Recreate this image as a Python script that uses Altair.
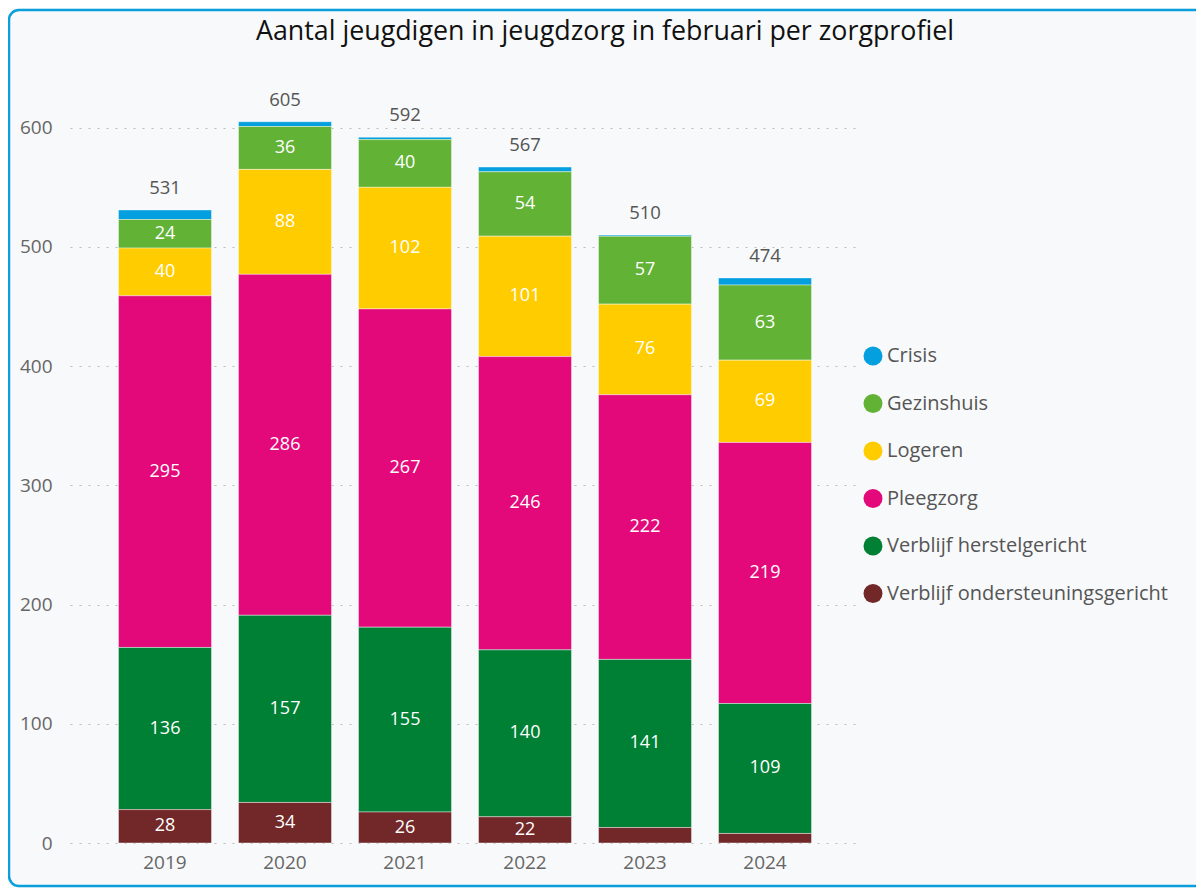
import altair as alt
import pandas as pd

years = ["2019", "2020", "2021", "2022", "2023", "2024"]
profiles = ["Crisis", "Gezinshuis", "Logeren", "Pleegzorg",
            "Verblijf herstelgericht", "Verblijf ondersteuningsgericht"]
colors = ["#039fdf", "#62b236", "#ffcc00", "#e3097a", "#008035", "#722828"]

crisis = [8, 4, 2, 4, 1, 6]
gezinshuis = [24, 36, 40, 54, 57, 63]
logeren = [40, 88, 102, 101, 76, 69]
pleegzorg = [295, 286, 267, 246, 222, 219]
herstel = [136, 157, 155, 140, 141, 109]
ondersteuning = [28, 34, 26, 22, 13, 8]

title_text = "Aantal jeugdigen in jeugdzorg in februari per zorgprofiel"

series = [crisis, gezinshuis, logeren, pleegzorg, herstel, ondersteuning]
rows = []
for p_i, (name, vals) in enumerate(zip(profiles, series)):
    for y, v in zip(years, vals):
        rows.append({"year": y, "profile": name, "value": v,
                     "order": len(profiles) - p_i})
df = pd.DataFrame(rows)

FONT = "Open Sans"
W, H = 790, 763

base = alt.Chart(df)

x_enc = alt.X("year:N", title=None,
              scale=alt.Scale(paddingInner=0.225, paddingOuter=0.404),
              axis=alt.Axis(labelAngle=0, labelFontSize=19, labelColor="#666666",
                            labelFont=FONT, domain=False, ticks=False,
                            labelPadding=10, grid=False))

bars = base.mark_bar(stroke="#ffffff", strokeWidth=0.7, strokeOpacity=0.6).encode(
    x=x_enc,
    y=alt.Y("sum(value):Q", stack="zero", title=None,
            scale=alt.Scale(domain=[0, 640], nice=False),
            axis=alt.Axis(values=[0, 100, 200, 300, 400, 500, 600],
                          labelFontSize=19, labelColor="#666666", labelFont=FONT,
                          domain=False, ticks=False, labelPadding=18,
                          grid=True, gridColor="#bbbbbb", gridDash=[2, 7],
                          gridWidth=1.2)),
    color=alt.Color("profile:N",
                    scale=alt.Scale(domain=profiles, range=colors),
                    legend=alt.Legend(title=None, orient="none",
                                      legendX=793, legendY=266,
                                      symbolType="circle", symbolSize=360,
                                      symbolStrokeWidth=0,
                                      labelFontSize=20, labelFont=FONT,
                                      labelColor="#555555", rowPadding=27.5,
                                      labelOffset=4, labelLimit=500)),
    order=alt.Order("order:Q"),
)

seg_labels = base.transform_stack(
    stack="value", groupby=["year"], sort=[alt.SortField("order")],
    as_=["y0", "y1"]
).transform_calculate(
    mid="(datum.y0 + datum.y1) / 2"
).transform_filter(
    "datum.value >= 20"
).mark_text(color="white", fontSize=18, font=FONT, baseline="middle").encode(
    x="year:N",
    y=alt.Y("mid:Q"),
    text="value:Q",
)

totals = base.transform_aggregate(
    total="sum(value)", groupby=["year"]
).mark_text(color="#555555", fontSize=18.5, font=FONT, baseline="bottom", dy=-12).encode(
    x="year:N",
    y=alt.Y("total:Q"),
    text="total:Q",
)

frame_df = pd.DataFrame({"k": [0]})
frame = alt.Chart(frame_df).mark_rect(
    fill="transparent", stroke="#0aa0dc", strokeWidth=2.5, cornerRadius=10, clip=False
).encode(
    x=alt.value(-61), x2=alt.value(1200),
    y=alt.value(-70), y2=alt.value(806),
)

title_df = pd.DataFrame({"t": [title_text]})
title = alt.Chart(title_df).mark_text(
    fontSize=26.8, font=FONT, color="#111111", align="center", baseline="middle"
).encode(
    x=alt.value(535), y=alt.value(-48), text="t:N"
)

chart = alt.layer(frame, bars, seg_labels, totals, title).properties(
    width=W, height=H,
    padding={"left": 62, "top": 72, "right": 336, "bottom": 45},
    autosize=alt.AutoSizeParams(type="none"),
    background="#f8f9fb",
).configure_view(stroke=None)

chart.save("out.html", embed_options={"renderer": "svg", "actions": False})
